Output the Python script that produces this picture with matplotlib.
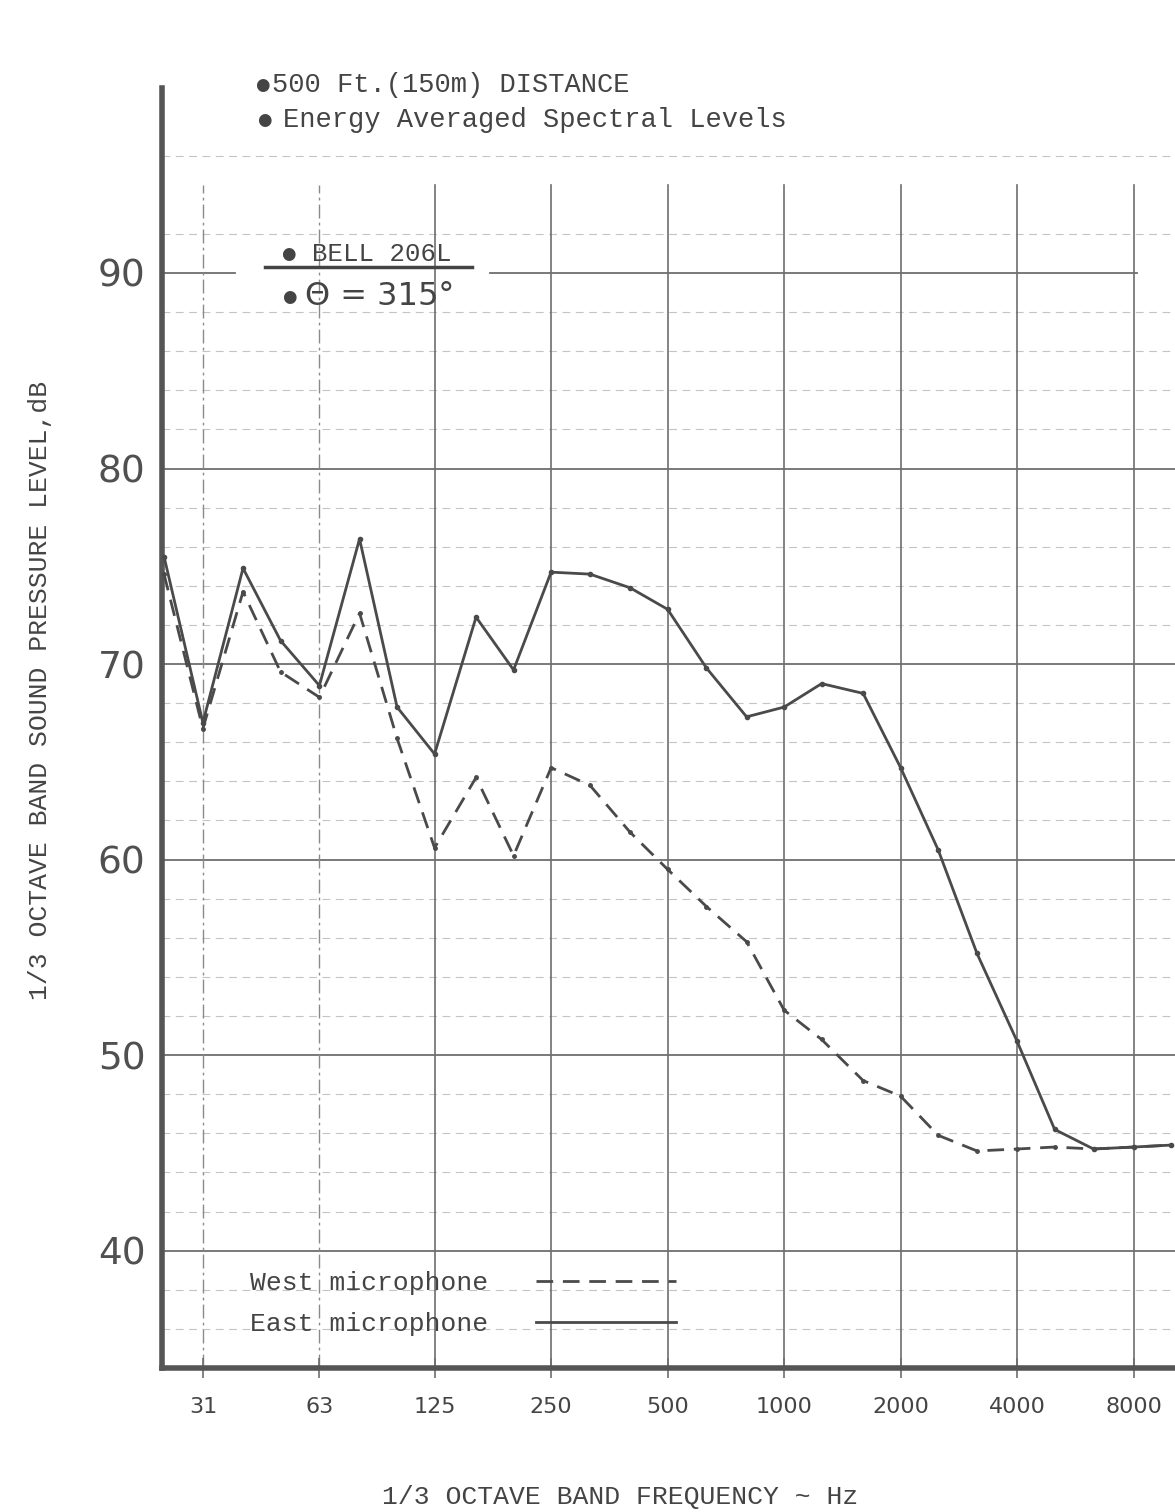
import numpy as np
import matplotlib.pyplot as plt
from matplotlib.lines import Line2D

# 1/3 octave band centre frequencies (Hz)
freqs = [25, 31.5, 40, 50, 63, 80, 100, 125, 160, 200, 250, 315, 400, 500, 630,
         800, 1000, 1250, 1600, 2000, 2500, 3150, 4000, 5000, 6300, 8000, 10000]
# East microphone (solid), dB
east = [75.5, 67.0, 74.9, 71.2, 68.9, 76.4, 67.8, 65.4, 72.4, 69.7, 74.7, 74.6, 73.9, 72.8, 69.8,
        67.3, 67.8, 69.0, 68.5, 64.7, 60.5, 55.2, 50.7, 46.2, 45.2, 45.3, 45.4]
# West microphone (dashed), dB
west = [74.6, 66.7, 73.7, 69.6, 68.3, 72.6, 66.2, 60.6, 64.2, 60.2, 64.7, 63.8, 61.4, 59.5, 57.6,
        55.8, 52.3, 50.8, 48.7, 47.9, 45.9, 45.1, 45.2, 45.3, 45.2, 45.3, 45.4]

octave_ticks = [31.5, 63, 125, 250, 500, 1000, 2000, 4000, 8000]
octave_labels = ["31", "63", "125", "250", "500", "1000", "2000", "4000", "8000"]
db_ticks = [40, 50, 60, 70, 80, 90]

ink = "#4a4a4a"
grid = "#6e6e6e"
txt = "#444444"
mono = ["Liberation Mono", "DejaVu Sans Mono", "DejaVu Sans"]

fig = plt.figure(figsize=(11.75, 15.12), dpi=100)
ax = fig.add_axes([162 / 1175, 1 - 1368 / 1512, 1013 / 1175, 1280 / 1512])
ax.set_xscale("log")
ax.set_xlim(24.7, 10230)
ax.set_ylim(34.0, 99.46)

ytop = (94.5 - 34.0) / (99.46 - 34.0)

# minor (2 dB) dashed grid, faint
for v in list(range(36, 94, 2)) + [96]:
    if v % 10:
        ax.axhline(v, color="#c4c4c4", lw=0.8, ls=(0, (7, 5)), zorder=0)
# major horizontal lines
for v in db_ticks:
    if v == 90:
        ax.axhline(v, xmin=0, xmax=0.072, color=grid, lw=1.3, zorder=0)
        ax.axhline(v, xmin=0.324, xmax=0.962, color=grid, lw=1.3, zorder=0)
    else:
        ax.axhline(v, color=grid, lw=1.3, zorder=0)
# vertical octave lines
for f in octave_ticks:
    if f < 100:
        ax.axvline(f, ymax=ytop, color="#8a8a8a", lw=1.0, ls=(0, (10, 3, 2, 3)), zorder=0)
    else:
        ax.axvline(f, ymax=ytop, color=grid, lw=1.2, zorder=0)

ax.plot(freqs, west, color=ink, lw=2.0, ls=(0, (6, 3.5)), marker="o", ms=2.5, zorder=3)
ax.plot(freqs, east, color=ink, lw=2.0, marker="o", ms=3, zorder=4)

for s in ["top", "right"]:
    ax.spines[s].set_visible(False)
for s in ["left", "bottom"]:
    ax.spines[s].set_linewidth(4)
    ax.spines[s].set_color("#555555")

ax.set_xticks(octave_ticks)
ax.set_xticklabels(octave_labels)
ax.minorticks_off()
ax.tick_params(axis="x", direction="inout", length=14, width=1.2, color=grid,
               pad=14, labelsize=16, labelcolor=txt)
for t in ax.get_xticklabels():
    t.set_family(["Liberation Sans Narrow", "DejaVu Sans"])
ax.set_yticks(db_ticks)
ax.tick_params(axis="y", length=0, pad=12, labelsize=27, labelcolor="#505050")
for t in ax.get_yticklabels():
    t.set_family(["DejaVu Sans"])

# annotations (bullets drawn separately so they come out at a readable size)
notes = [
    (0.0987, 1.0023, 0.1086, "500 Ft.(150m) DISTANCE", 19.5, mono),
    (0.1010, 0.9750, 0.1194, "Energy Averaged Spectral Levels", 19.5, mono),
    (0.1250, 0.8700, 0.1480, "BELL 206L", 18.5, mono),
    (0.1260, 0.8370, 0.1410, "Θ = 315°", 23, ["DejaVu Sans", "Liberation Mono"]),
]
for bx, by, tx, s, fs, fam in notes:
    ax.text(bx, by, "●", transform=ax.transAxes, fontsize=12, family=["DejaVu Sans"],
            color=txt, ha="center", va="center")
    ax.text(tx, by, s, transform=ax.transAxes, fontsize=fs, family=fam, color=txt,
            va="center")
ax.plot([0.102, 0.306], [0.8605, 0.8605], transform=ax.transAxes, color=txt, lw=2.5)

handles = [Line2D([], [], color=ink, lw=2.0, ls=(0, (6, 3.5))),
           Line2D([], [], color=ink, lw=2.0)]
leg = ax.legend(handles, ["West microphone", "East microphone"], loc="upper left",
                bbox_to_anchor=(0.074, 0.086), frameon=False, markerfirst=False,
                prop={"family": mono, "size": 19}, handlelength=5.3, handletextpad=1.8,
                labelspacing=0.65, borderpad=0)
for t in leg.get_texts():
    t.set_color(txt)

fig.text(40 / 1175, 1 - 690 / 1512, "1/3 OCTAVE BAND SOUND PRESSURE LEVEL,dB", rotation=90,
         ha="center", va="center", fontsize=19, family=mono, color=txt)
fig.text(620 / 1175, 1 - 1497 / 1512, "1/3 OCTAVE BAND FREQUENCY ~ Hz",
         ha="center", va="center", fontsize=19, family=mono, color=txt)

fig.savefig("out.png", dpi=100)
